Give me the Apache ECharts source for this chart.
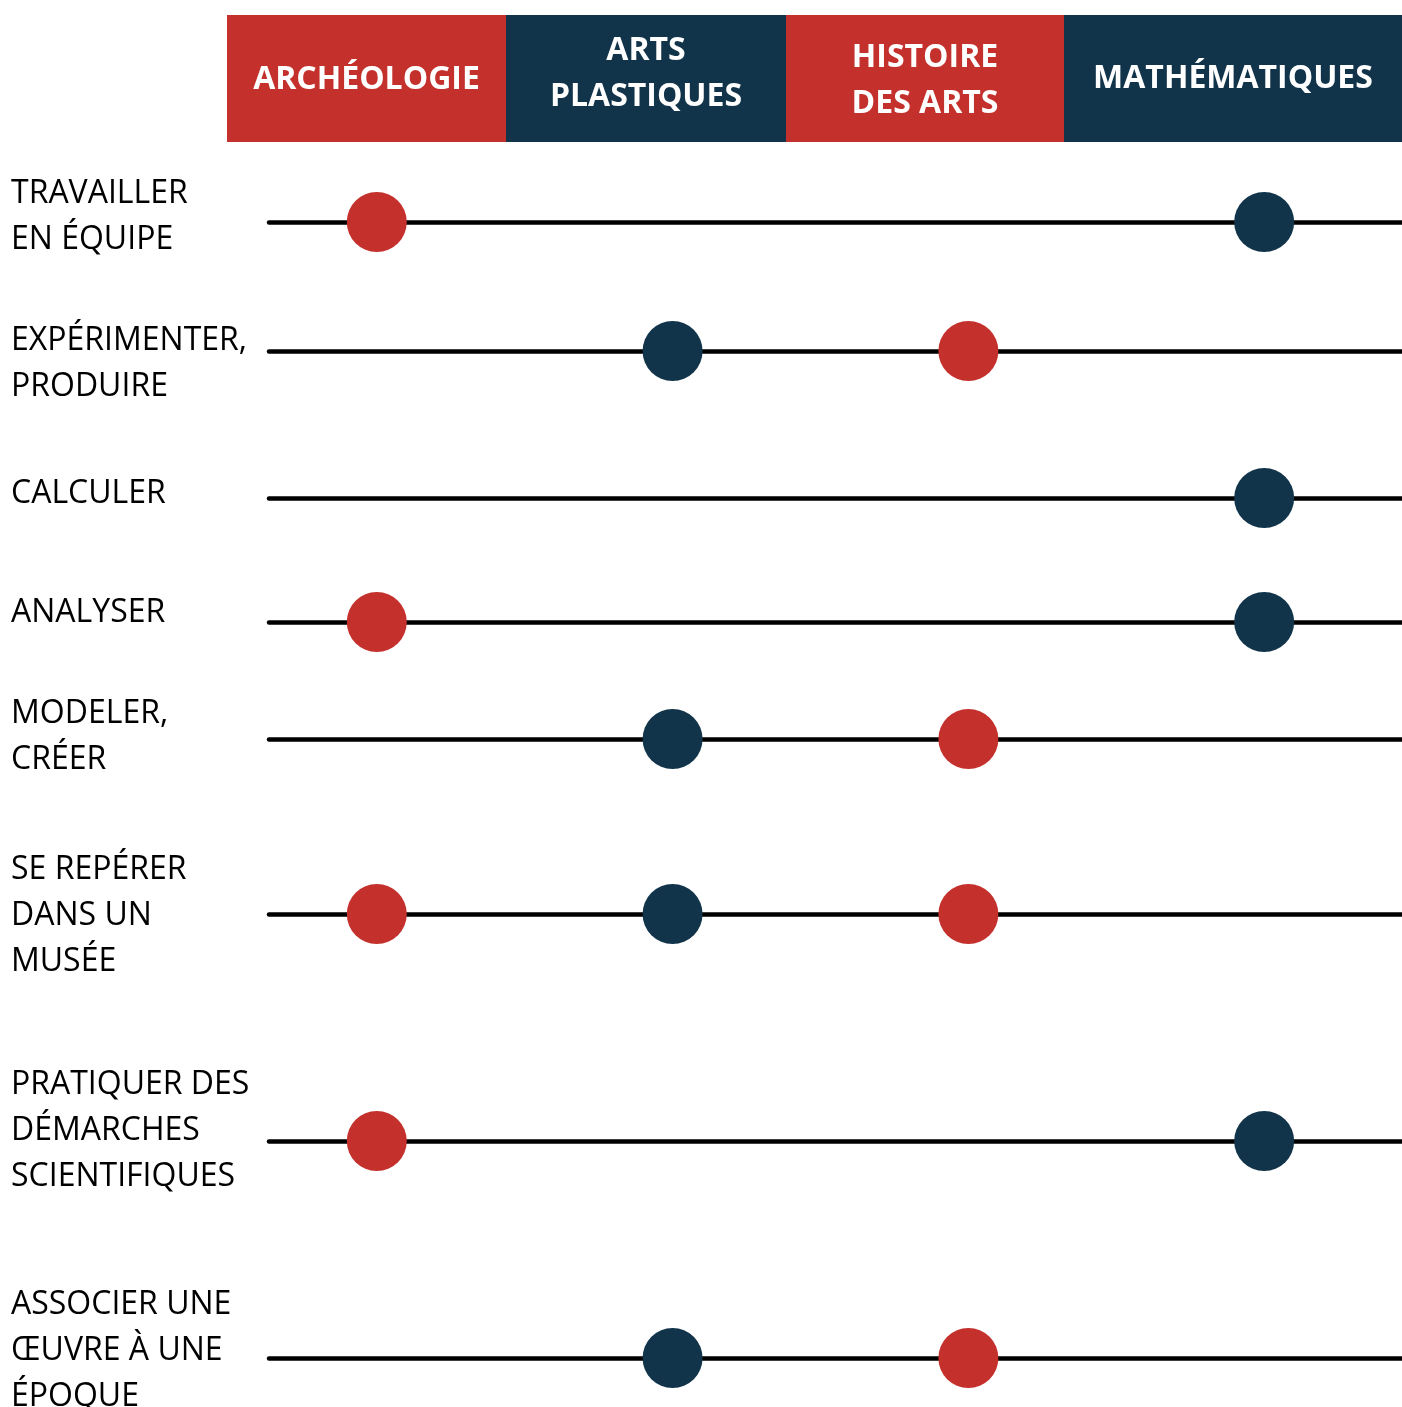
<!DOCTYPE html>
<html>
<head>
<meta charset="utf-8">
<script src="https://cdn.jsdelivr.net/npm/echarts@6/dist/echarts.min.js"></script>
<style>
  html, body { margin: 0; padding: 0; background: #fff; }
  #chart { width: 1402px; height: 1407px; }
</style>
</head>
<body>
<div id="chart"></div>
<script>
  /** Data */
  var subjects = ['ARCHÉOLOGIE', 'ARTS\nPLASTIQUES', 'HISTOIRE\nDES ARTS', 'MATHÉMATIQUES'];
  var skills = [
    'TRAVAILLER\nEN ÉQUIPE',
    'EXPÉRIMENTER,\nPRODUIRE',
    'CALCULER',
    'ANALYSER',
    'MODELER,\nCRÉER',
    'SE REPÉRER\nDANS UN\nMUSÉE',
    'PRATIQUER DES\nDÉMARCHES\nSCIENTIFIQUES',
    'ASSOCIER UNE\nŒUVRE À UNE\nÉPOQUE'
  ];
  // 1 = the subject works on that skill (one entry per skill, same order)
  var archeologie    = [1, 0, 0, 1, 0, 1, 1, 0];
  var artsPlastiques = [0, 1, 0, 0, 1, 1, 0, 1];
  var histoireArts   = [0, 1, 0, 0, 1, 1, 0, 1];
  var mathematiques  = [1, 0, 1, 1, 0, 0, 1, 0];
  var links = [archeologie, artsPlastiques, histoireArts, mathematiques];

  /** Layout / style */
  var RED = '#c4302b', NAVY = '#12344a';
  var subjectColors = [RED, NAVY, RED, NAVY];
  var headerBoxes = [[227, 279], [506, 280], [786, 278], [1064, 338]];
  var headerTextY = [80, 74, 81, 79];
  var rowLineY = [222, 351, 498, 622, 739, 914, 1141, 1358];
  var rowLabelY = [217, 364, 494, 613, 737, 916, 1131, 1351];
  var FONT = '"Open Sans", "Noto Sans", sans-serif';

  var grids = [], xAxes = [], yAxes = [], series = [], graphics = [];

  skills.forEach(function(skill, r) {
    grids.push({ left: 269, right: 0, top: rowLineY[r] - 30, height: 60 });
    xAxes.push({
      gridIndex: r, type: 'value', min: -0.3644, max: 3.466,
      axisLine: { show: true, onZero: true, lineStyle: { color: '#000', width: 4.5 } },
      axisTick: { show: false }, axisLabel: { show: false }, splitLine: { show: false }
    });
    yAxes.push({ gridIndex: r, type: 'value', min: -1, max: 1, show: false });

    var pts = [];
    links.forEach(function(arr, s) {
      if (arr[r]) pts.push([s, 0]);
    });
    series.push({
      type: 'scatter', xAxisIndex: r, yAxisIndex: r,
      symbolSize: 60, clip: false, silent: true,
      itemStyle: { opacity: 1, color: function(p) { return subjectColors[p.data[0]]; } },
      data: pts
    });

    graphics.push({
      type: 'text', left: 11, top: rowLabelY[r] - skill.split('\n').length * 23,
      style: { text: skill, font: '32px ' + FONT, fill: '#000', lineHeight: 46 }
    });
  });

  subjects.forEach(function(name, s) {
    var b = headerBoxes[s];
    graphics.push({
      type: 'rect', shape: { x: b[0], y: 15, width: b[1], height: 127 },
      style: { fill: subjectColors[s] }
    });
    graphics.push({
      type: 'text', x: b[0] + b[1] / 2, y: headerTextY[s],
      style: {
        text: name, font: 'bold 32px ' + FONT, fill: '#fff', lineHeight: 46,
        align: 'center', verticalAlign: 'middle'
      }
    });
  });

  var chart = echarts.init(document.getElementById('chart'));
  chart.setOption({
    animation: false,
    backgroundColor: '#fff',
    grid: grids,
    xAxis: xAxes,
    yAxis: yAxes,
    series: series,
    graphic: graphics
  });
</script>
</body>
</html>
